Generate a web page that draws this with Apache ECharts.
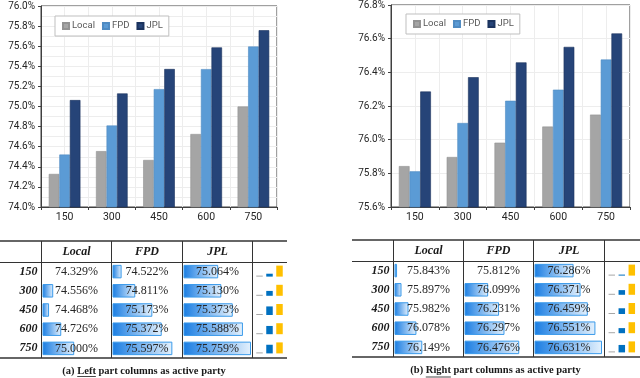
<!DOCTYPE html>
<html><head><meta charset="utf-8">
<script src="https://cdn.jsdelivr.net/npm/echarts@6/dist/echarts.min.js"></script>
<style>html,body{margin:0;padding:0;background:#fff}#c{width:640px;height:378px}</style>
</head><body><div id="c"></div>
<script>
// ---------- data ----------
const categories = ['150', '300', '450', '600', '750'];
const seriesNames = ['Local', 'FPD', 'JPL'];
const leftLocal = [74.329, 74.556, 74.468, 74.726, 75.000];
const leftFPD   = [74.522, 74.811, 75.173, 75.372, 75.597];
const leftJPL   = [75.064, 75.130, 75.373, 75.588, 75.759];
const rightLocal = [75.843, 75.897, 75.982, 76.078, 76.149];
const rightFPD   = [75.812, 76.099, 76.231, 76.297, 76.476];
const rightJPL   = [76.286, 76.371, 76.459, 76.551, 76.631];
const leftAxis = { min: 74.0, max: 76.0, interval: 0.2 };
const rightAxis = { min: 75.6, max: 76.8, interval: 0.2 };
const captionA = ['(a) ', 'Left', ' part columns as active party'];
const captionB = ['(b) ', 'Right', ' part columns as active party'];

// ---------- styles / layout ----------
const SANS = 'Roboto, "Liberation Sans", sans-serif';
const SERIF = '"Liberation Serif", "DejaVu Serif", serif';
const barColors = ['#A5A5A5', '#5B9BD5', '#264478'];
const barBorders = ['#929292', '#4F8BC2', '#1B335E'];
const sparkColors = ['#A6A6A6', '#0070C0', '#FFC000'];
const AXIS_C = '#404040';
const GRID_C = '#EDEDED';

const grid = [], xAxis = [], yAxis = [], series = [], graphic = [], legend = [];

function addChart(L, data, ax, minor) {
  const gi = grid.length;
  grid.push({ left: L.left, top: L.top, width: L.width, height: L.height, show: true,
    borderColor: AXIS_C, borderWidth: 1 });
  const xi = xAxis.length;
  xAxis.push({ type: 'category', gridIndex: gi, data: categories,
    axisLine: { lineStyle: { color: AXIS_C, width: 1 } },
    axisTick: { show: true, length: 3, lineStyle: { color: AXIS_C } },
    axisLabel: { fontFamily: SANS, fontSize: 10.5, color: '#262626', margin: 5 },
    splitLine: { show: false } });
  xAxis.push({ type: 'value', gridIndex: gi, min: 0, max: categories.length * 2, interval: 1,
    position: 'top', axisLine: { show: false }, axisTick: { show: false }, axisLabel: { show: false },
    splitLine: { show: true, lineStyle: { color: GRID_C, width: 1 } } });
  const yi = yAxis.length;
  yAxis.push({ type: 'value', gridIndex: gi, min: ax.min, max: ax.max, interval: ax.interval,
    axisLine: { show: true, lineStyle: { color: AXIS_C } },
    axisTick: { show: true, length: 3, lineStyle: { color: AXIS_C } },
    axisLabel: { fontFamily: SANS, fontSize: 10, color: '#262626', margin: 6,
      formatter: v => v.toFixed(1) + '%' },
    splitLine: { show: true, lineStyle: { color: GRID_C } },
    minorTick: { show: false, splitNumber: 2 },
    minorSplitLine: { show: minor, lineStyle: { color: GRID_C } } });
  data.forEach((vals, k) => series.push({
    type: 'bar', name: seriesNames[k], xAxisIndex: xi, yAxisIndex: yi, data: vals,
    barGap: '0%', barCategoryGap: '33%',
    itemStyle: { color: barColors[k], borderColor: barBorders[k], borderWidth: 0.6 },
    emphasis: { disabled: true }, animation: false }));
  legend.push({ left: L.legLeft, top: L.legTop, data: seriesNames, icon: 'rect',
    itemWidth: 6, itemHeight: 6, itemGap: 7, padding: [5, 6, 5, 7],
    backgroundColor: '#fff', borderColor: '#BFBFBF', borderWidth: 1,
    textStyle: { fontFamily: SANS, fontSize: 9.5, color: '#595959', padding: [0, 0, 0, -2] },
    selectedMode: false });
}

addChart({ left: 41, top: 6, width: 236, height: 201, legLeft: 55, legTop: 16 },
  [leftLocal, leftFPD, leftJPL], leftAxis, true);
addChart({ left: 391, top: 5, width: 239, height: 202, legLeft: 406, legTop: 14 },
  [rightLocal, rightFPD, rightJPL], rightAxis, false);

// ---------- tables ----------
const mctx = document.createElement('canvas').getContext('2d');
function textW(s, font) { mctx.font = font; return mctx.measureText(s).width; }

function addTable(T, cols, caption) {
  const all = cols.flat();
  const mn = Math.min(...all), mx = Math.max(...all);
  const n = categories.length;
  const rowH = (T.bottom - T.head) / n;
  // data bars
  cols.forEach((vals, c) => {
    const gi = grid.length;
    grid.push({ left: T.cols[c] + 1, top: T.head, width: T.barLen, height: T.bottom - T.head });
    const xi = xAxis.length;
    xAxis.push({ type: 'value', gridIndex: gi, min: 0, max: mx - mn, show: false });
    const yi = yAxis.length;
    yAxis.push({ type: 'category', gridIndex: gi, data: categories, inverse: true, show: false });
    series.push({ type: 'bar', xAxisIndex: xi, yAxisIndex: yi,
      data: vals.map(v => (v - mn) > 1e-9 ? v - mn : '-'), barWidth: 13.5,
      itemStyle: { color: new echarts.graphic.LinearGradient(0, 0, 1, 0,
        [{ offset: 0, color: '#1A7DE2' }, { offset: 1, color: '#E4F1FD' }]),
        borderColor: '#3A9AEA', borderWidth: 1 },
      silent: true, animation: false });
    // values text
    vals.forEach((v, r) => graphic.push({ type: 'text', z: 100,
      x: (T.cols[c] + T.cols[c + 1]) / 2, y: T.head + rowH * (r + 0.5),
      style: { text: v.toFixed(3) + '%', font: '12px ' + SERIF, fill: '#262626',
        align: 'center', verticalAlign: 'middle' } }));
    // header
    graphic.push({ type: 'text', z: 100, x: (T.cols[c] + T.cols[c + 1]) / 2, y: (T.top + T.head) / 2,
      style: { text: seriesNames[c], font: 'italic bold 12px ' + SERIF, fill: '#1a1a1a',
        align: 'center', verticalAlign: 'middle' } });
  });
  // sparklines + row labels
  categories.forEach((cat, r) => {
    const rowVals = cols.map(col => col[r]);
    const rmin = Math.min(...rowVals), rmax = Math.max(...rowVals);
    const cy = T.head + rowH * (r + 0.5);
    const gi = grid.length;
    grid.push({ left: T.cols[3] + T.sparkOff, top: cy - 6, width: 30, height: 11 });
    const xi = xAxis.length;
    xAxis.push({ type: 'category', gridIndex: gi, data: seriesNames, show: false });
    const yi = yAxis.length;
    yAxis.push({ type: 'value', gridIndex: gi, min: 0, max: rmax - rmin, show: false });
    series.push({ type: 'bar', xAxisIndex: xi, yAxisIndex: yi, barWidth: 6.5, barMinHeight: 1,
      data: rowVals.map((v, k) => ({ value: v - rmin, itemStyle: { color: sparkColors[k] } })),
      silent: true, animation: false });
    graphic.push({ type: 'text', z: 100, x: T.cols[0] - 4, y: cy,
      style: { text: cat, font: 'italic bold 12px ' + SERIF, fill: '#1a1a1a',
        align: 'right', verticalAlign: 'middle' } });
  });
  // rules
  const hl = (y, w) => graphic.push({ type: 'line', z: 100,
    shape: { x1: T.x0, y1: y, x2: T.x1, y2: y }, style: { stroke: '#333', lineWidth: w } });
  hl(T.top, 1.5); hl(T.head + 0.5, 1); hl(T.bottom, 1.5);
  T.cols.forEach(x => graphic.push({ type: 'line', z: 100,
    shape: { x1: x, y1: T.top, x2: x, y2: T.bottom }, style: { stroke: '#333', lineWidth: 1 } }));
  // caption
  const cf = 'bold 10.5px ' + SERIF;
  const full = caption.join('');
  const tw = textW(full, cf);
  const x0 = T.capX - tw / 2;
  graphic.push({ type: 'text', z: 100, x: T.capX, y: T.capY,
    style: { text: full, font: cf, fill: '#1a1a1a', align: 'center', verticalAlign: 'middle' } });
  const u0 = x0 + textW(caption[0], cf), u1 = x0 + textW(caption[0] + caption[1], cf);
  graphic.push({ type: 'line', z: 100, shape: { x1: u0, y1: T.capUY, x2: u1, y2: T.capUY },
    style: { stroke: '#1a1a1a', lineWidth: 0.8 } });
}

addTable({ x0: 0, x1: 287, cols: [41.5, 111.5, 182.5, 252.5], top: 241, head: 262, bottom: 358,
  barLen: 67.5, sparkOff: 2, capX: 144, capY: 371, capUY: 376.5 },
  [leftLocal, leftFPD, leftJPL], captionA);
addTable({ x0: 352, x1: 640, cols: [393.5, 463.5, 533.5, 604.5], top: 240, head: 261, bottom: 357,
  barLen: 67.5, sparkOff: 2.3, capX: 495.5, capY: 370, capUY: 377 },
  [rightLocal, rightFPD, rightJPL], captionB);

const chart = echarts.init(document.getElementById('c'), null, { renderer: 'canvas' });
chart.setOption({ animation: false, backgroundColor: '#fff', grid, xAxis, yAxis, series, legend, graphic });
</script></body></html>
